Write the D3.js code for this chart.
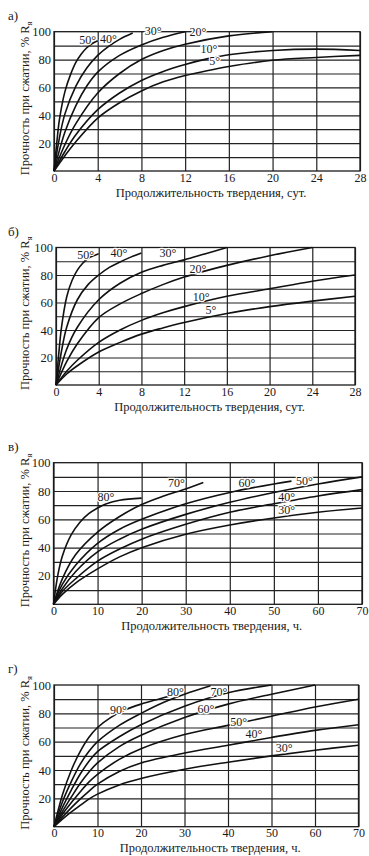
<!DOCTYPE html>
<html>
<head>
<meta charset="utf-8">
<script src="https://cdn.jsdelivr.net/npm/d3@7"></script>
<style>
  html, body { margin: 0; padding: 0; background: #fff; }
  svg { display: block; }
</style>
</head>
<body>
<div id="chart-container"></div>
<script>
const serif = "'Liberation Serif', 'Times New Roman', 'DejaVu Serif', serif";

// ticks
const dayTicks = [0, 4, 8, 12, 16, 20, 24, 28];
const hourTicks = [0, 10, 20, 30, 40, 50, 60, 70];
const pctLabels = [20, 40, 60, 80, 100];
const pctGrid = [10, 20, 30, 40, 50, 60, 70, 80, 90];

// panel a) - days
const a50 = [[0,0],[0.25,20],[0.5,37],[1,57],[1.5,69],[2,78],[2.5,84],[3,88.5],[3.5,91.5],[4,93.5]];
const a40 = [[0,0],[0.5,24],[1,41],[2,61],[3,74],[4,83],[5,89.5],[6,94.5],[7.2,99]];
const a30 = [[0,0],[1,28],[2,47],[3,61],[4,71],[6,83],[8,90.5],[10,96],[12,100]];
const a20 = [[0,0],[1,19],[2,34],[4,56],[6,70],[8,80],[10,86.5],[12,91],[16,97],[20,100]];
const a10 = [[0,0],[1,14],[2,26],[4,44],[6,56],[8,65],[10,71.5],[12,76.5],[14,80.5],[16,83.5],[20,86.5],[24,87.5],[28,86.5]];
const a5 = [[0,0],[1,11],[2,21],[4,38],[6,49],[8,57.5],[10,64],[12,68.5],[14,72],[16,75],[20,79.5],[24,81.5],[28,83]];
const labelsA = [["50°",2.3,91],["40°",4.2,92],["30°",8.3,97.5],["20°",12.4,97],["10°",13.4,85],["5°",14.2,76]];

// panel б) - days
const b50 = [[0,0],[0.25,22],[0.5,41],[1,64],[1.5,76],[2,83.5],[2.5,88.5],[3,92],[3.5,94],[4,95.5]];
const b40 = [[0,0],[0.5,24],[1,42],[2,62],[3,73],[4,80],[5,85.5],[6,89.5],[7,93],[8,96]];
const b30 = [[0,0],[1,26],[2,42],[4,62],[6,74],[8,82],[10,87],[12,91],[14,95.5],[16,100]];
const b20 = [[0,0],[1,17],[2,30],[4,49],[6,59],[8,66.5],[10,73],[12,78.5],[14,83],[16,87],[20,94],[24,100]];
const b10 = [[0,0],[1,10],[2,18],[4,31],[6,40],[8,47],[10,52.5],[12,57],[16,64.5],[20,70],[24,75.5],[28,80]];
const b5 = [[0,0],[1,8],[2,14],[4,24],[6,31],[8,37],[10,41.5],[12,45.5],[16,52],[20,57],[24,61],[28,64.5]];
const labelsB = [["50°",2.0,92],["40°",5.1,93],["30°",9.7,93],["20°",12.5,81.5],["10°",12.8,61],["5°",14,52]];

// panel в) - hours
const c80 = [[0,0],[1,21],[2,34],[4,49],[6,58],[8,64],[10,68],[12,71],[15,73.5],[20,75]];
const c70 = [[0,0],[2,18],[5,35],[10,51],[15,62],[20,70.5],[25,76.5],[30,81.5],[34,86]];
const c60 = [[0,0],[2,14],[5,27.5],[10,43],[15,53],[20,60],[30,71],[40,79],[50,85],[54,87]];
const c50 = [[0,0],[2,11],[5,23],[10,37],[15,46],[20,53],[30,63.5],[40,72],[50,79],[60,85],[70,90]];
const c40 = [[0,0],[2,9],[5,18],[10,30.5],[15,39],[20,46],[30,56.5],[40,65],[50,71],[60,76.5],[70,81]];
const c30 = [[0,0],[2,7],[5,15],[10,25],[15,33.5],[20,40],[30,49.5],[40,56],[50,61],[60,65],[70,68]];
const labelsC = [["80°",10,73],["70°",26,83],["60°",42,83],["50°",55,84],["40°",51,73],["30°",51,64]];

// panel г) - hours
const d90 = [[0,0],[2,23],[4,40],[6,53],[8,63],[10,70],[13,77],[16,82],[20,86.5],[24,90],[27,92.5]];
const d80 = [[0,0],[2,18],[4,32],[6,44],[8,53],[10,60],[15,71.5],[20,80],[25,87.5],[30,93.5],[36,99.5]];
const d70 = [[0,0],[2,14],[4,26],[6,37],[8,46],[10,53],[15,63.5],[20,72],[30,85],[40,94.5],[50,100]];
const d60 = [[0,0],[2,11],[4,21],[6,30.5],[8,38.5],[10,45],[15,56.5],[20,64.5],[30,77],[40,86.5],[50,93.5],[60,100]];
const d50 = [[0,0],[2,9],[4,17],[6,24.5],[8,31.5],[10,37],[15,47.5],[20,55],[30,65],[40,71.5],[50,78],[60,84.5],[70,90]];
const d40 = [[0,0],[2,7],[4,13.5],[6,19.5],[8,25],[10,30],[15,39],[20,45],[30,52],[40,57.5],[50,63],[60,68],[70,72]];
const d30 = [[0,0],[2,5.5],[4,10.5],[6,15],[8,19.5],[10,23],[15,29.5],[20,34],[30,40.5],[40,45.5],[50,50],[60,54],[70,57.5]];
const labelsD = [["90°",12.9,79.5],["80°",26,92],["70°",36,92],["60°",33,80],["50°",40.5,71],["40°",44,62.5],["30°",51,53]];

const titleDays = "Продолжительность твердения, сут.";
const titleHours = "Продолжительность твердения, ч.";

const width = 369;
const height = 856;

const svg = d3.select("#chart-container")
    .append("svg")
    .attr("width", width)
    .attr("height", height)
    .attr("viewBox", [0, 0, width, height])
    .attr("font-family", serif);

svg.append("rect").attr("width", width).attr("height", height).attr("fill", "#fff");

const panels = [
    {letter: "а)", box: {x0: 54, x1: 360, y0: 31.7, y1: 171}, ticks: dayTicks, title: titleDays,
     curves: [a50, a40, a30, a20, a10, a5], labels: labelsA},
    {letter: "б)", box: {x0: 56, x1: 355, y0: 247.5, y1: 385}, ticks: dayTicks, title: titleDays,
     curves: [b50, b40, b30, b20, b10, b5], labels: labelsB},
    {letter: "в)", box: {x0: 53.5, x1: 362, y0: 462.7, y1: 604.3}, ticks: hourTicks, title: titleHours,
     curves: [c80, c70, c60, c50, c40, c30], labels: labelsC},
    {letter: "г)", box: {x0: 54, x1: 358.5, y0: 685, y1: 826.7}, ticks: hourTicks, title: titleHours,
     curves: [d90, d80, d70, d60, d50, d40, d30], labels: labelsD}
];

function drawPanel(p) {
    const b = p.box;
    const x = d3.scaleLinear().domain([0, p.ticks[p.ticks.length - 1]]).range([b.x0, b.x1]);
    const y = d3.scaleLinear().domain([0, 100]).range([b.y1, b.y0]);
    const g = svg.append("g");

    // horizontal grid
    g.append("g")
        .attr("transform", `translate(${b.x0},0)`)
        .call(d3.axisLeft(y).tickValues(pctGrid).tickSize(-(b.x1 - b.x0)).tickFormat(""))
        .call(g => g.select(".domain").remove())
        .call(g => g.selectAll("line").attr("stroke", "#222").attr("stroke-width", 1.2));

    // vertical grid
    g.append("g")
        .attr("transform", `translate(0,${b.y1})`)
        .call(d3.axisBottom(x).tickValues(p.ticks).tickSize(-(b.y1 - b.y0)).tickFormat(""))
        .call(g => g.select(".domain").remove())
        .call(g => g.selectAll("line").attr("stroke", "#222").attr("stroke-width", 1.2));

    // frame
    g.append("rect")
        .attr("x", b.x0).attr("y", b.y0)
        .attr("width", b.x1 - b.x0).attr("height", b.y1 - b.y0)
        .attr("fill", "none").attr("stroke", "#1a1a1a").attr("stroke-width", 1.3);

    // y tick labels
    g.append("g")
        .attr("transform", `translate(${b.x0},0)`)
        .call(d3.axisLeft(y).tickValues(pctLabels).tickSize(0).tickPadding(3))
        .call(g => g.select(".domain").remove())
        .attr("font-family", serif)
        .attr("font-size", 12.5)
        .call(g => g.selectAll("text").attr("fill", "#1a1a1a"));

    // x tick labels
    g.append("g")
        .attr("transform", `translate(0,${b.y1})`)
        .call(d3.axisBottom(x).tickValues(p.ticks).tickSize(0).tickPadding(2))
        .call(g => g.select(".domain").remove())
        .attr("font-family", serif)
        .attr("font-size", 12)
        .call(g => g.selectAll("text").attr("fill", "#1a1a1a"));

    // curves
    const line = d3.line()
        .x(d => x(d[0]))
        .y(d => y(d[1]))
        .curve(d3.curveCatmullRom.alpha(0.5));

    g.append("g")
        .selectAll("path")
        .data(p.curves)
        .join("path")
        .attr("d", line)
        .attr("fill", "none")
        .attr("stroke", "#111")
        .attr("stroke-width", 1.6);

    // temperature labels
    g.append("g")
        .selectAll("text")
        .data(p.labels)
        .join("text")
        .attr("x", d => x(d[1]))
        .attr("y", d => y(d[2]))
        .attr("font-family", serif)
        .attr("font-size", 12)
        .attr("fill", "#1a1a1a")
        .attr("stroke", "#fff")
        .attr("stroke-width", 2.5)
        .attr("paint-order", "stroke")
        .text(d => d[0]);

    // x axis title
    g.append("text")
        .attr("x", (b.x0 + b.x1) / 2 + 4)
        .attr("y", b.y1 + 25.5)
        .attr("text-anchor", "middle")
        .attr("font-family", serif)
        .attr("font-size", 12.5)
        .attr("fill", "#1a1a1a")
        .text(p.title);

    // y axis title
    const yt = g.append("text")
        .attr("transform", `translate(29,${(b.y0 + b.y1) / 2 - 3}) rotate(-90)`)
        .attr("text-anchor", "middle")
        .attr("font-family", serif)
        .attr("font-size", 12.5)
        .attr("fill", "#1a1a1a");
    yt.append("tspan").text("Прочность при сжатии, % R");
    yt.append("tspan").attr("font-size", 8.5).attr("dy", 3).text("я");

    // panel letter
    g.append("text")
        .attr("x", 8)
        .attr("y", b.y0 - 12)
        .attr("font-family", serif)
        .attr("font-size", 13)
        .attr("fill", "#1a1a1a")
        .text(p.letter);
}

panels.forEach(drawPanel);
</script>
</body>
</html>
